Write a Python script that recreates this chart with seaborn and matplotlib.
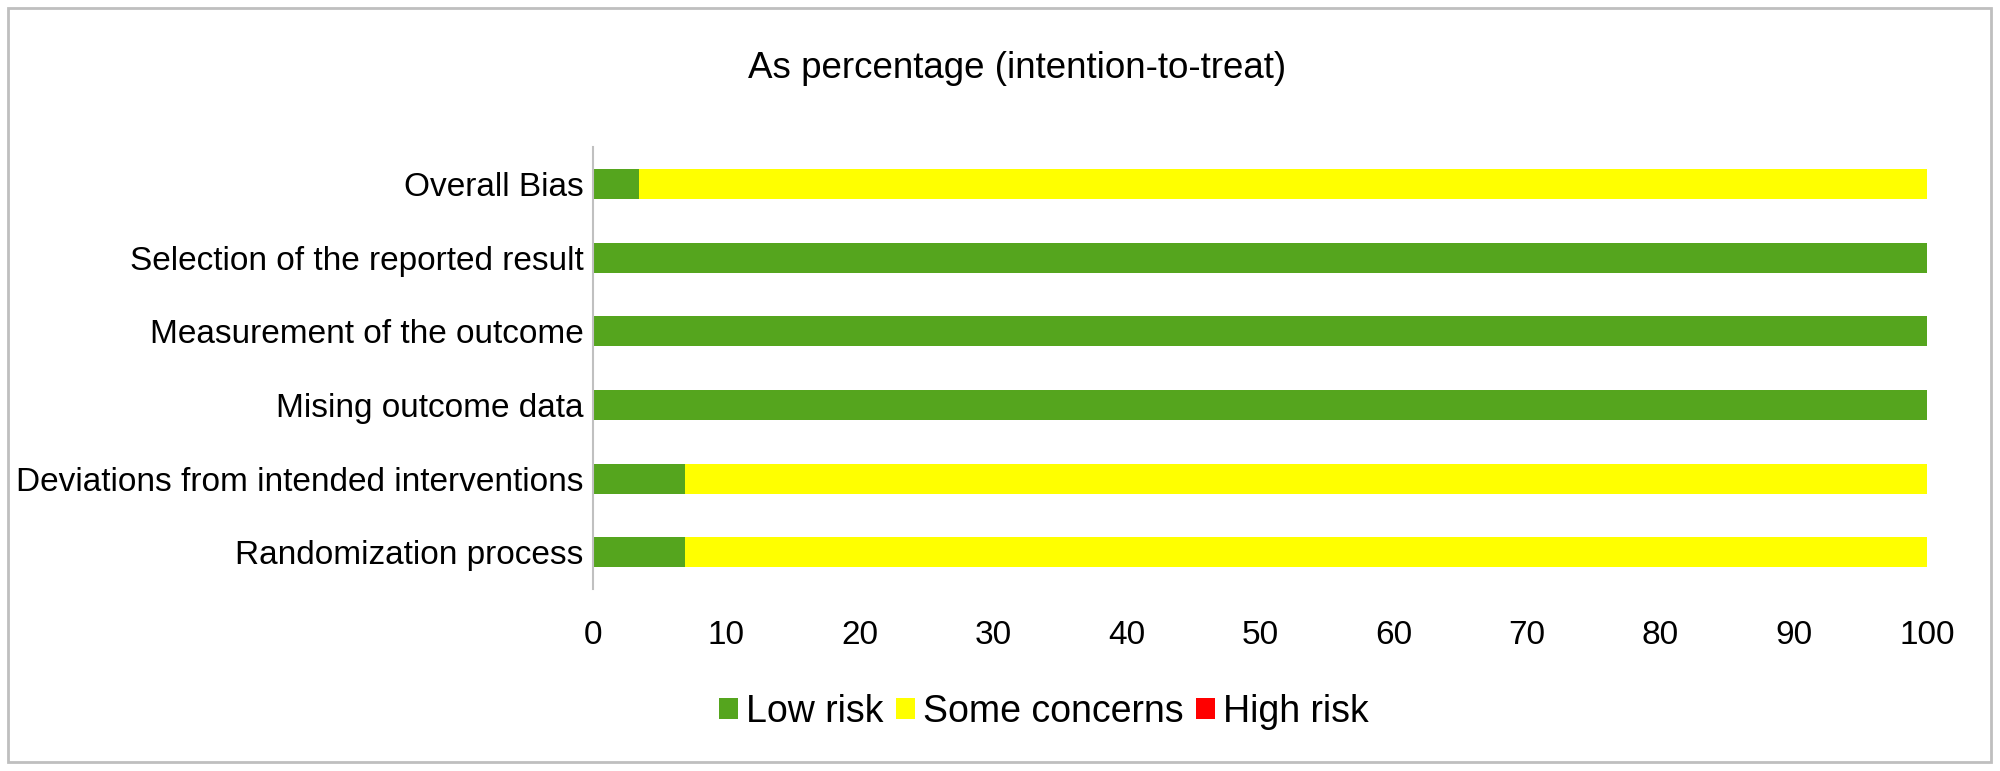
import pandas as pd
import matplotlib.pyplot as plt
import seaborn as sns
from matplotlib.patches import Patch, Rectangle

# Risk of bias domains (top to bottom as in the chart)
domains = [
    'Overall Bias',
    'Selection of the reported result',
    'Measurement of the outcome',
    'Mising outcome data',
    'Deviations from intended interventions',
    'Randomization process',
]
low_risk = [3.45, 100, 100, 100, 6.9, 6.9]
some_concerns = [96.55, 0, 0, 0, 93.1, 93.1]
high_risk = [0, 0, 0, 0, 0, 0]

series_names = ['Low risk', 'Some concerns', 'High risk']
colors = ['#55A51E', '#FFFF00', '#FF0000']

df = pd.DataFrame({'domain': domains, 'low': low_risk,
                   'some': some_concerns, 'high': high_risk})
df['cum_some'] = df['low'] + df['some']
df['cum_high'] = df['cum_some'] + df['high']

sns.set_style('white')
plt.rcParams['font.family'] = ['Liberation Sans', 'DejaVu Sans']
plt.rcParams['text.color'] = 'black'

fig = plt.figure(figsize=(20, 7.71), dpi=100)
ax = fig.add_axes([0.2965, 0.236, 0.667, 0.573])

# Stacked bars: draw cumulative totals back to front
for col, color in zip(['cum_high', 'cum_some', 'low'], colors[::-1]):
    sns.barplot(data=df, x=col, y='domain', orient='h', color=color,
                width=0.41, saturation=1, ax=ax, linewidth=0)

ax.set_xlim(0, 100)
ax.set_xticks(range(0, 101, 10))
ax.set_xlabel('')
ax.set_ylabel('')
ax.tick_params(axis='x', length=0, pad=22, labelsize=24, colors='black')
ax.tick_params(axis='y', length=0, pad=7, labelsize=24, colors='black')
for side in ['top', 'right', 'bottom']:
    ax.spines[side].set_visible(False)
ax.spines['left'].set_color('#C0C0C0')
ax.spines['left'].set_linewidth(1.5)

fig.text(0.5085, 0.911, 'As percentage (intention-to-treat)',
         ha='center', va='center', fontsize=26.5, color='black')

handles = [Patch(facecolor=c, edgecolor='none') for c in colors]
fig.legend(handles, series_names, loc='center', bbox_to_anchor=(0.522, 0.077),
           ncol=3, frameon=False, fontsize=27, handlelength=0.5,
           handleheight=0.5, handletextpad=0.22, columnspacing=0.33,
           labelcolor='black')

# Outer chart border
fig.patches.append(Rectangle((0.004, 0.0117), 0.9915, 0.9779,
                             transform=fig.transFigure, fill=False,
                             edgecolor='#BFBFBF', linewidth=2))

plt.savefig('out.png', dpi=100)
